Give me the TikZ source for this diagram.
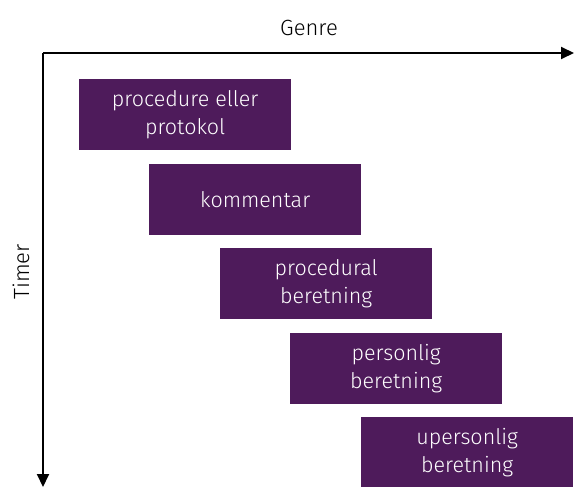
\documentclass[tikz,border=0pt]{standalone}
\usepackage{fontspec}
\setmainfont{Fira Sans Light}
\usetikzlibrary{arrows.meta}
\definecolor{boxpurple}{RGB}{78,27,91}
\tikzset{
  genrebox/.style={fill=boxpurple, text=white, minimum width=212pt, minimum height=71pt, inner sep=0pt, align=center, font=\fontsize{21.5}{28.5}\selectfont, anchor=north west},
  axis/.style={line width=2pt, -{Triangle[length=13pt,width=12pt]}},
  axlabel/.style={font=\fontsize{22}{26}\selectfont}
}
\begin{document}
\begin{tikzpicture}[x=1pt,y=-1pt]
\useasboundingbox (0,0) rectangle (574,487);
\coordinate (origin) at (43,53);
\coordinate (xend) at (574,53);
\coordinate (yend) at (43,487);
\draw[axis] (origin) -- (xend);
\draw[axis] (origin) -- (yend);
\node[axlabel] (genre) at (309,28) {Genre};
\node[axlabel, rotate=90] (timer) at (21,272) {Timer};
\node[genrebox] (b1) at (79,79) {procedure eller\\protokol};
\node[genrebox] (b2) at (149,164) {kommentar};
\node[genrebox] (b3) at (220,248) {procedural\\beretning};
\node[genrebox] (b4) at (290,333) {personlig\\beretning};
\node[genrebox] (b5) at (361,417) {upersonlig\\beretning};
\end{tikzpicture}
\end{document}
